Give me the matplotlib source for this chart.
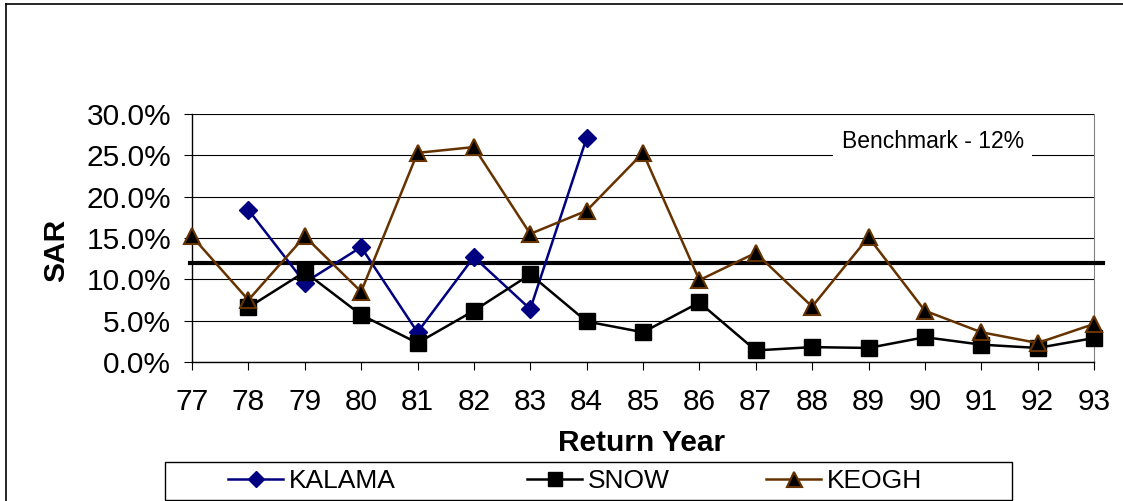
import matplotlib.pyplot as plt
from matplotlib.lines import Line2D
from matplotlib.patches import Rectangle

plt.rcParams['font.family'] = ['Liberation Sans', 'DejaVu Sans']

# return years and SAR values (%)
years = list(range(77, 94))
kalama_years = [78, 79, 80, 81, 82, 83, 84]
kalama = [18.4, 9.6, 13.9, 3.6, 12.7, 6.4, 27.1]
snow_years = list(range(78, 94))
snow = [6.6, 10.9, 5.7, 2.3, 6.2, 10.6, 4.9, 3.6, 7.2, 1.4, 1.8, 1.7, 3.0, 2.1, 1.7, 2.9]
keogh_years = list(range(77, 94))
keogh = [15.2, 7.5, 15.2, 8.5, 25.3, 26.0, 15.5, 18.3, 25.3, 9.9, 13.2, 6.7, 15.1, 6.2, 3.6, 2.3, 4.6]
benchmark = 12.0
yticks = [0, 5, 10, 15, 20, 25, 30]

W, H = 1123, 501
fig = plt.figure(figsize=(W / 100, H / 100), dpi=100)
ax = fig.add_axes([192 / W, 1 - 362 / H, (1094 - 192) / W, (362 - 114) / H])

ax.set_xlim(77, 93)
ax.set_ylim(0, 30)
ax.set_yticks(yticks)
ax.set_yticklabels(['%.1f%%' % v for v in yticks])
ax.set_xticks(years)
ax.set_xticklabels([str(y) for y in years])
ax.grid(axis='y', color='black', linewidth=0.8)
ax.set_axisbelow(True)
ax.tick_params(axis='both', direction='out', length=6, width=0.8, labelsize=21.5, colors='black')
ax.tick_params(axis='y', pad=9)
ax.tick_params(axis='x', pad=13)
ax.spines['top'].set_visible(False)
ax.spines['right'].set_color('#808080')
ax.spines['left'].set_linewidth(1)
ax.spines['bottom'].set_linewidth(1)

# benchmark line
ax.plot([76.97, 93.16], [benchmark, benchmark], color='black', linewidth=3, clip_on=False, zorder=3)
ax.text(90.14, 26.7, 'Benchmark - 12%', fontsize=16.5, ha='center', va='center',
        bbox=dict(facecolor='white', edgecolor='none', pad=6), zorder=2)

l1, = ax.plot(kalama_years, kalama, color='#000080', linewidth=1.8, marker='D', markersize=9,
              markerfacecolor='#000080', markeredgecolor='#000080', clip_on=False, zorder=4, label='KALAMA')
l2, = ax.plot(snow_years, snow, color='black', linewidth=1.8, marker='s', markersize=11,
              markerfacecolor='black', markeredgecolor='black', clip_on=False, zorder=4, label='SNOW')
l3, = ax.plot(keogh_years, keogh, color='#663300', linewidth=1.8, marker='^', markersize=12,
              markerfacecolor='black', markeredgecolor='#663300', markeredgewidth=1.5,
              clip_on=False, zorder=5, label='KEOGH')

fig.text(56 / W, 1 - 250 / H, 'SAR', rotation=90, fontsize=21.5, fontweight='bold', ha='center', va='center')
fig.text(642 / W, 1 - 443 / H, 'Return Year', fontsize=21.5, fontweight='bold', ha='center', va='center')

# legend box with one entry per series
fig.patches.append(Rectangle((165 / W, 1 - 500 / H), (1012 - 165) / W, (500 - 462) / H,
                             transform=fig.transFigure, facecolor='white', edgecolor='black', linewidth=1))
for handle, x0 in zip([l1, l2, l3], [228, 527, 766]):
    fig.legend(handles=[handle], loc='center left', bbox_to_anchor=(x0 / W, 1 - 481 / H),
               frameon=False, fontsize=19, handlelength=2.1, handletextpad=0.2,
               borderpad=0, borderaxespad=0, markerscale=0.9)

# outer chart border
fig.add_artist(Line2D([6 / W, 6 / W], [0, 1 - 4 / H], transform=fig.transFigure, color='black', linewidth=1.2))
fig.add_artist(Line2D([6 / W, 1], [1 - 4 / H, 1 - 4 / H], transform=fig.transFigure, color='black', linewidth=1.2))

fig.savefig('out.png', dpi=100)
